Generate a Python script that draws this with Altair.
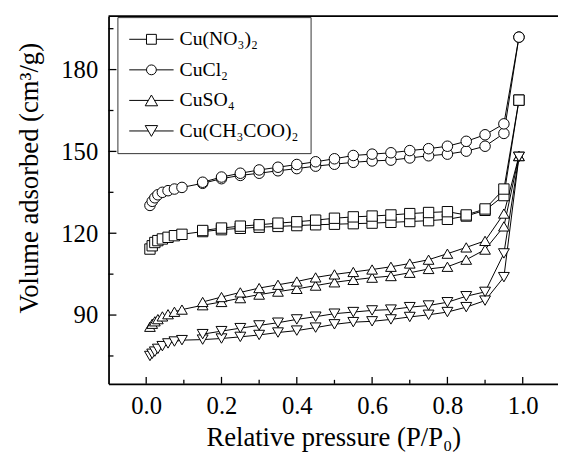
import altair as alt
import pandas as pd

SERIES = ["Cu(NO₃)₂", "CuCl₂", "CuSO₄", "Cu(CH₃COO)₂"]

P_ADS = [0.01, 0.016, 0.023, 0.031, 0.043, 0.058, 0.075, 0.095, 0.15, 0.20, 0.25, 0.30,
         0.35, 0.40, 0.45, 0.50, 0.55, 0.60, 0.65, 0.70, 0.75, 0.80, 0.85, 0.90, 0.95, 0.99]
P_DES = [0.99, 0.95, 0.90, 0.85, 0.80, 0.75, 0.70, 0.65, 0.60, 0.55, 0.50, 0.45,
         0.40, 0.35, 0.30, 0.25, 0.20, 0.15]

ADS_NO3 = [114.2, 115.4, 116.6, 117.3, 117.9, 118.5, 119.1, 119.6, 120.6, 121.3, 121.8, 122.2,
           122.5, 122.8, 123.1, 123.3, 123.5, 123.7, 124.0, 124.3, 124.6, 125.1, 126.3, 128.4, 133.8, 168.8]
DES_NO3 = [168.8, 136.2, 128.9, 126.7, 127.9, 127.6, 127.2, 126.7, 126.3, 126.0, 125.5, 124.8,
           124.2, 123.7, 123.1, 122.6, 121.9, 121.0]

ADS_CL = [130.2, 131.7, 133.0, 134.1, 135.0, 135.6, 136.2, 136.8, 138.3, 140.0, 141.2, 142.0,
          142.9, 143.7, 144.6, 145.3, 146.0, 146.5, 146.8, 147.6, 148.4, 149.0, 150.1, 151.9, 156.6, 191.9]
DES_CL = [191.9, 160.1, 156.1, 153.7, 151.9, 151.0, 150.3, 149.5, 149.0, 148.5, 147.3, 146.2,
          145.2, 144.2, 143.2, 142.0, 140.6, 138.7]

ADS_SO4 = [85.7, 86.8, 87.7, 88.5, 89.5, 90.3, 91.2, 92.0, 93.6, 94.8, 96.2, 97.5,
           98.6, 99.6, 100.8, 102.0, 102.9, 103.7, 104.3, 105.5, 106.9, 107.7, 110.3, 114.0, 122.5, 148.3]
DES_SO4 = [148.3, 127.2, 117.2, 114.8, 112.5, 110.3, 108.9, 107.7, 106.7, 105.8, 104.9, 103.8,
           102.3, 101.1, 99.9, 98.3, 96.6, 94.8]

ADS_AC = [75.0, 75.8, 76.6, 77.6, 78.6, 79.6, 80.3, 80.8, 81.0, 81.4, 82.0, 82.7,
          83.6, 84.3, 85.4, 86.6, 87.4, 87.7, 88.4, 89.3, 90.1, 91.1, 92.9, 95.3, 103.9, 148.0]
DES_AC = [148.0, 112.6, 98.5, 96.9, 94.7, 93.5, 92.9, 92.0, 91.7, 91.1, 90.5, 89.4,
          88.4, 87.2, 86.2, 85.2, 84.1, 83.0]

ADS = {SERIES[0]: ADS_NO3, SERIES[1]: ADS_CL, SERIES[2]: ADS_SO4, SERIES[3]: ADS_AC}
DES = {SERIES[0]: DES_NO3, SERIES[1]: DES_CL, SERIES[2]: DES_SO4, SERIES[3]: DES_AC}

X_TICKS = [0.0, 0.2, 0.4, 0.6, 0.8, 1.0]
X_MINOR = [0.1, 0.3, 0.5, 0.7, 0.9]
Y_TICKS = [90, 120, 150, 180]
Y_MINOR = [75, 105, 135, 165, 195]

rows = []
for s in SERIES:
    for i, (p, v) in enumerate(zip(P_ADS, ADS[s])):
        rows.append({"series": s, "branch": "ads", "p": p, "v": v, "order": i})
    for i, (p, v) in enumerate(zip(P_DES, DES[s])):
        rows.append({"series": s, "branch": "des", "p": p, "v": v, "order": i})
df = pd.DataFrame(rows)

W, H = 456, 373
FONT = "Liberation Serif"
xscale = alt.Scale(domain=[-0.1, 1.0937], nice=False, zero=False)
yscale = alt.Scale(domain=[64.8, 199.6], nice=False, zero=False)

x_axis = alt.Axis(values=X_TICKS, format=".1f", title="Relative pressure (P/P₀)",
                  labelFont=FONT, labelFontSize=25, titleFont=FONT, titleFontSize=27,
                  labelPadding=10, labelFlush=False, titleY=63, titleBaseline="alphabetic")
y_axis = alt.Axis(values=Y_TICKS, format="d", title="Volume adsorbed (cm³/g)",
                  labelFont=FONT, labelFontSize=25, titleFont=FONT, titleFontSize=27,
                  labelPadding=11, titleX=-80, titleY=164, titleAngle=-90,
                  titleAlign="center", titleBaseline="middle")

X = alt.X("p:Q", scale=xscale, axis=x_axis)
Y = alt.Y("v:Q", scale=yscale, axis=y_axis)

SHAPES = ["square", "circle", "triangle-up", "triangle-down"]
SIZES = [110, 121, 160, 160]
LEG_PATHS = [
    "M-2.25,0H-0.5M0.5,0H2.25M-0.5,-0.5H0.5V0.5H-0.5Z",
    "M-2.25,0H-0.5M0.5,0H2.25M-0.5,0A0.5,0.5,0,1,0,0.5,0A0.5,0.5,0,1,0,-0.5,0Z",
    "M-2.25,0H-0.315M0.315,0H2.25M0,-0.546L0.63,0.546L-0.63,0.546Z",
    "M-2.25,0H-0.315M0.315,0H2.25M0,0.546L0.63,-0.546L-0.63,-0.546Z",
]

lines = alt.Chart(df).mark_line(color="black", strokeWidth=1).encode(
    x=X, y=Y, detail=["series:N", "branch:N"], order="order:Q")

points = alt.Chart(df).mark_point(filled=True, fill="white", stroke="black",
                                  strokeWidth=1, opacity=1).encode(
    x=alt.X("p:Q", scale=xscale), y=alt.Y("v:Q", scale=yscale),
    shape=alt.Shape("series:N", scale=alt.Scale(domain=SERIES, range=SHAPES), legend=None),
    size=alt.Size("series:N", scale=alt.Scale(domain=SERIES, range=SIZES), legend=None))

legend_layer = alt.Chart(df).transform_filter("datum.p > 5").mark_point(
    filled=False, color="black", strokeWidth=1, opacity=1, size=400).encode(
    x=alt.X("p:Q", scale=xscale), y=alt.Y("v:Q", scale=yscale),
    shape=alt.Shape("series:N", scale=alt.Scale(domain=SERIES, range=LEG_PATHS),
                    legend=alt.Legend(title=None, orient="none", legendX=9, legendY=1,
                                      direction="vertical", labelFont=FONT, labelFontSize=20,
                                      labelColor="black", symbolSize=400, symbolOffset=12,
                                      labelOffset=18, symbolStrokeColor="black",
                                      symbolFillColor="white", symbolStrokeWidth=1,
                                      symbolOpacity=1, strokeColor="#333333", fillColor="white",
                                      padding=12, rowPadding=10)))

tick_x_major = alt.Chart(pd.DataFrame({"p": X_TICKS})).mark_rule(color="black", strokeWidth=1.3).encode(
    x=alt.X("p:Q", scale=xscale), y=alt.value(H), y2=alt.value(H - 7))
tick_x_minor = alt.Chart(pd.DataFrame({"p": X_MINOR})).mark_rule(color="black", strokeWidth=1.3).encode(
    x=alt.X("p:Q", scale=xscale), y=alt.value(H), y2=alt.value(H - 4))
tick_y_major = alt.Chart(pd.DataFrame({"v": Y_TICKS})).mark_rule(color="black", strokeWidth=1.3).encode(
    y=alt.Y("v:Q", scale=yscale), x=alt.value(0), x2=alt.value(8))
tick_y_minor = alt.Chart(pd.DataFrame({"v": Y_MINOR})).mark_rule(color="black", strokeWidth=1.3).encode(
    y=alt.Y("v:Q", scale=yscale), x=alt.value(0), x2=alt.value(5))
top_line = alt.Chart(pd.DataFrame({"a": [0]})).mark_rule(color="black", strokeWidth=1.8).encode(
    x=alt.value(0), x2=alt.value(W), y=alt.value(0))

chart = alt.layer(
    lines, points, legend_layer, tick_x_major, tick_x_minor, tick_y_major, tick_y_minor, top_line
).resolve_scale(shape="independent").properties(
    width=W, height=H,
    autosize=alt.AutoSizeParams(type="none"),
    padding={"left": 102, "top": 5, "right": 0, "bottom": 69},
).configure(font=FONT).configure_view(stroke=None).configure_axis(
    labelFont=FONT, labelFontSize=25, labelColor="black",
    titleFont=FONT, titleFontSize=27, titleFontWeight="normal", titleColor="black",
    domainColor="black", domainWidth=1.8, ticks=False, tickSize=0, grid=False,
)

chart.save("out.html", embed_options={"renderer": "svg", "actions": False})
